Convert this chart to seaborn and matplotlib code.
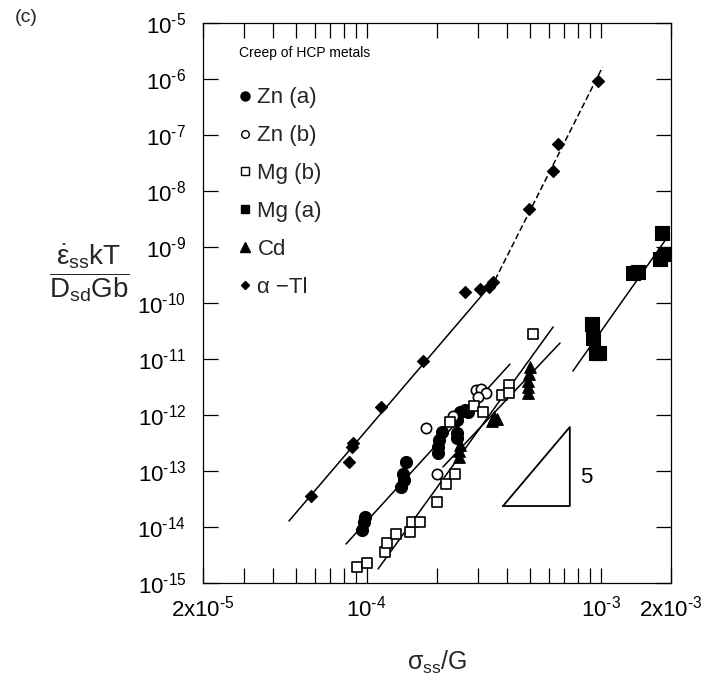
import numpy as np
import pandas as pd
import matplotlib
matplotlib.use("Agg")
import matplotlib.pyplot as plt
import seaborn as sns
from matplotlib.lines import Line2D
from matplotlib.ticker import FixedLocator, NullFormatter, FixedFormatter

sns.set_theme(style="ticks")
plt.rcParams['font.family'] = ['Liberation Sans', 'DejaVu Sans']
plt.rcParams['mathtext.fontset'] = 'custom'
plt.rcParams['mathtext.rm'] = 'Liberation Sans'
plt.rcParams['mathtext.it'] = 'Liberation Sans'
plt.rcParams['mathtext.bf'] = 'Liberation Sans:bold'
plt.rcParams['mathtext.sf'] = 'Liberation Sans'

# ---------------- data ----------------
zn_a_x = [9.56e-5, 9.75e-5, 9.85e-5, 1.40e-4, 1.445e-4, 1.43e-4, 1.47e-4, 2.02e-4, 2.02e-4,
          2.04e-4, 2.10e-4, 2.43e-4, 2.43e-4, 2.43e-4, 2.51e-4, 2.64e-4, 2.71e-4]
zn_a_y = [8.8e-15, 1.23e-14, 1.51e-14, 5.2e-14, 6.9e-14, 8.8e-14, 1.45e-13, 2.1e-13, 2.7e-13,
          3.6e-13, 5.0e-13, 3.9e-13, 4.8e-13, 8.1e-13, 1.13e-12, 1.23e-12, 1.13e-12]

zn_b_x = [1.79e-4, 2.0e-4, 2.34e-4, 2.94e-4, 3.08e-4, 3.24e-4, 2.99e-4]
zn_b_y = [5.9e-13, 8.8e-14, 9.6e-13, 2.8e-12, 2.9e-12, 2.5e-12, 2.1e-12]

mg_b_x = [9.1e-5, 1.005e-4, 1.20e-4, 1.22e-4, 1.34e-4, 1.535e-4, 1.56e-4, 1.69e-4, 2.0e-4,
          2.18e-4, 2.39e-4, 2.27e-4, 2.88e-4, 3.15e-4, 3.80e-4, 4.07e-4, 4.07e-4, 5.14e-4]
mg_b_y = [1.93e-15, 2.28e-15, 3.6e-15, 5.2e-15, 7.5e-15, 8.1e-15, 1.23e-14, 1.23e-14, 2.8e-14,
          5.9e-14, 8.8e-14, 7.5e-13, 1.45e-12, 1.13e-12, 2.28e-12, 3.4e-12, 2.47e-12, 2.8e-11]

mg_a_x = [9.18e-4, 9.29e-4, 9.55e-4, 9.8e-4, 1.38e-3, 1.45e-3, 1.83e-3, 1.88e-3, 1.80e-3]
mg_a_y = [4.2e-11, 2.37e-11, 1.28e-11, 1.3e-11, 3.4e-10, 3.6e-10, 1.78e-9, 7.5e-10, 6.1e-10]

cd_x = [2.51e-4, 2.48e-4, 2.48e-4, 3.51e-4, 3.61e-4, 3.44e-4, 4.99e-4, 4.95e-4, 4.90e-4,
        4.90e-4, 4.90e-4]
cd_y = [2.9e-13, 2.28e-13, 1.78e-13, 9.2e-13, 8.5e-13, 7.8e-13, 7.2e-12, 5.4e-12, 4.05e-12,
        3.16e-12, 2.47e-12]

tl_x = [5.79e-5, 8.4e-5, 8.7e-5, 8.75e-5, 1.15e-4, 1.74e-4, 2.64e-4, 3.06e-4, 3.34e-4,
        3.47e-4, 4.94e-4, 6.26e-4, 6.58e-4, 9.75e-4]
tl_y = [3.6e-14, 1.45e-13, 2.7e-13, 3.2e-13, 1.39e-12, 9.2e-12, 1.57e-10, 1.78e-10, 1.93e-10,
        2.37e-10, 4.8e-9, 2.28e-8, 6.9e-8, 9.2e-7]

# fitted lines (endpoints)
tl_fit_x = [4.66e-5, 3.54e-4]
tl_fit_y = [1.28e-14, 2.58e-10]
tl_dash_x = [3.54e-4, 1.02e-3]
tl_dash_y = [2.58e-10, 1.64e-6]
zn_fit_x = [8.17e-5, 4.10e-4]
zn_fit_y = [4.97e-15, 8.1e-12]
mgb_fit_x = [1.12e-4, 6.27e-4]
mgb_fit_y = [1.78e-15, 3.73e-11]
cd_fit_x = [2.12e-4, 6.71e-4]
cd_fit_y = [1.18e-13, 1.93e-11]
mga_fit_x = [7.62e-4, 1.92e-3]
mga_fit_y = [6.1e-12, 1.45e-9]

# slope triangle
tri_x = [3.83e-4, 7.39e-4, 7.39e-4, 3.83e-4]
tri_y = [2.37e-14, 2.37e-14, 6.1e-13, 2.37e-14]
slope_label = "5"

series_names = ["Zn (a)", "Zn (b)", "Mg (b)", "Mg (a)", "Cd", "α −Tl"]
x_tick_vals = [2e-5, 1e-4, 1e-3, 2e-3]
x_tick_labels = [r"$\mathregular{2x10^{\text{-}5}}$", r"$\mathregular{10^{\text{-}4}}$",
                 r"$\mathregular{10^{\text{-}3}}$", r"$\mathregular{2x10^{\text{-}3}}$"]
y_exps = list(range(-15, -4))

# ---------------- figure ----------------
fig = plt.figure(figsize=(7.13, 6.75), dpi=100)
ax = fig.add_axes([203/713, 1-583/675, (671-203)/713, (583-23)/675])
ax.set_xscale("log")
ax.set_yscale("log")

styles = {
    "Zn (a)": dict(x=zn_a_x, y=zn_a_y, marker="o", s=75, fc="black", ec="black", lw=0.8, ms=6.5),
    "Zn (b)": dict(x=zn_b_x, y=zn_b_y, marker="o", s=55, fc="white", ec="black", lw=1.2, ms=5.5),
    "Mg (b)": dict(x=mg_b_x, y=mg_b_y, marker="s", s=55, fc="white", ec="black", lw=1.2, ms=5.5),
    "Mg (a)": dict(x=mg_a_x, y=mg_a_y, marker="s", s=90, fc="black", ec="black", lw=0.8, ms=6),
    "Cd": dict(x=cd_x, y=cd_y, marker="^", s=70, fc="black", ec="black", lw=0.8, ms=6.5),
    "α −Tl": dict(x=tl_x, y=tl_y, marker="D", s=38, fc="black", ec="black", lw=0.8, ms=4.5),
}

# fit lines
for lx, ly in [(tl_fit_x, tl_fit_y), (zn_fit_x, zn_fit_y), (mgb_fit_x, mgb_fit_y),
               (cd_fit_x, cd_fit_y), (mga_fit_x, mga_fit_y)]:
    sns.lineplot(x=lx, y=ly, ax=ax, color="black", lw=1.1, estimator=None, sort=False)
sns.lineplot(x=tl_dash_x, y=tl_dash_y, ax=ax, color="black", lw=1.1, estimator=None,
             sort=False, linestyle=(0, (4, 2)))
ax.plot(tri_x, tri_y, color="black", lw=1.3)

for name in series_names:
    st = styles[name]
    df = pd.DataFrame({"x": st["x"], "y": st["y"]})
    sns.scatterplot(data=df, x="x", y="y", ax=ax, marker=st["marker"], s=st["s"],
                    facecolor=st["fc"], edgecolor=st["ec"], linewidth=st["lw"], zorder=3)

ax.set_xlim(2e-5, 2e-3)
ax.set_ylim(1e-15, 1e-5)
ax.set_xlabel("")
ax.set_ylabel("")

# ticks
ax.xaxis.set_major_locator(FixedLocator(x_tick_vals))
ax.xaxis.set_major_formatter(FixedFormatter(x_tick_labels))
minor_x = [k * 1e-5 for k in range(3, 10)] + [k * 1e-4 for k in range(2, 10)]
ax.xaxis.set_minor_locator(FixedLocator(minor_x))
ax.xaxis.set_minor_formatter(NullFormatter())
ax.yaxis.set_major_locator(FixedLocator([10.0**e for e in y_exps]))
ax.yaxis.set_major_formatter(FixedFormatter(
    [r"$\mathregular{10^{\text{-}%d}}$" % (-e) for e in y_exps]))
ax.yaxis.set_minor_locator(FixedLocator([]))
ax.tick_params(which="both", direction="in", top=True, right=True, length=11, width=0.9,
               color="black", labelsize=16, labelcolor="black")
ax.tick_params(axis="x", which="major", pad=9)
ax.tick_params(axis="y", which="major", pad=12)
for sp in ax.spines.values():
    sp.set_color("black")
    sp.set_linewidth(0.9)

# legend
handles = []
for name in series_names:
    st = styles[name]
    handles.append(Line2D([], [], linestyle="none", marker=st["marker"], markersize=st["ms"],
                          markerfacecolor=st["fc"], markeredgecolor="black",
                          markeredgewidth=1.0))
leg = ax.legend(handles, series_names, loc="upper left", bbox_to_anchor=(0.083, 0.885),
                frameon=False, fontsize=16, handlelength=0.3, handletextpad=0.4,
                labelspacing=0.76, borderpad=0, borderaxespad=0)
ax.text(0.077, 0.946, "Creep of HCP metals", transform=ax.transAxes, fontsize=10,
        ha="left", va="center", color="black")

ax.text(8.2e-4, 7.8e-14, slope_label, fontsize=16, ha="left", va="center", color="black")

fig.text(15/713, 1-17/675, "(c)", fontsize=14, ha="left", va="center")
fig.text(89/713, 1-273/675,
         r"$\dfrac{\dot{\varepsilon}_{\mathregular{ss}}\mathregular{kT}}{\mathregular{D_{sd}Gb}}$",
         fontsize=20, ha="center", va="center")
fig.text(437/713, 1-662/675, r"$\mathregular{\sigma_{ss}/G}$", fontsize=18,
         ha="center", va="center")

fig.savefig("out.png", dpi=100, facecolor="white")
